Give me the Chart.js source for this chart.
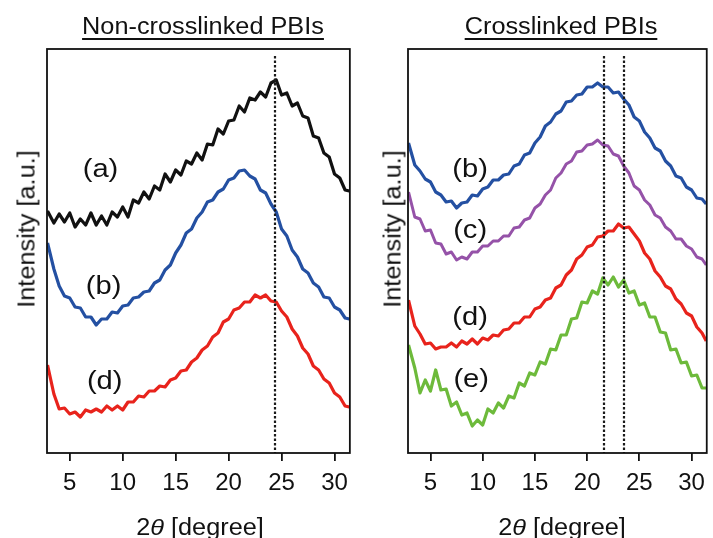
<!DOCTYPE html>
<html>
<head>
<meta charset="utf-8">
<script src="https://cdn.jsdelivr.net/npm/chart.js@4.4.1/dist/chart.umd.min.js"></script>
<style>
  html, body { margin: 0; padding: 0; background: #fff; }
  body { width: 713px; height: 538px; position: relative; overflow: hidden;
         font-family: "Liberation Sans", Arial, sans-serif; color: #111; }
  canvas { position: absolute; top: 0; }
  .txt { position: absolute; white-space: nowrap; line-height: 1; }
  .title { top: 15px; font-size: 23px; text-decoration: underline;
           text-decoration-thickness: 1.5px; text-underline-offset: 4px;
           transform: translateX(-50%) scaleX(1.1); }
  .ytitle { font-size: 23px; transform: translate(-50%, -50%) rotate(-90deg) scaleX(1.1); }
  .xtitle { top: 516px; font-size: 23px; transform: translateX(-50%) scaleX(1.1); }
</style>
</head>
<body>
<canvas id="leftChart" width="356" height="538" style="left:0"></canvas>
<canvas id="rightChart" width="357" height="538" style="left:356px"></canvas>

<div class="txt title" style="left:203px">Non-crosslinked PBIs</div>
<div class="txt title" style="left:561px">Crosslinked PBIs</div>
<div class="txt ytitle" style="left:27px; top:229px">Intensity [a.u.]</div>
<div class="txt ytitle" style="left:393px; top:229px">Intensity [a.u.]</div>
<div class="txt xtitle" style="left:200px">2<i>θ</i> [degree]</div>
<div class="txt xtitle" style="left:562px">2<i>θ</i> [degree]</div>

<script>
// 2θ sampling (degrees) shared by every pattern
const twoTheta = [2.9, 3.5, 4, 4.5, 5, 5.5, 6, 6.5, 7, 7.5, 8, 8.5, 9, 9.5, 10, 10.5, 11, 11.5, 12, 12.5,
  13, 13.5, 14, 14.5, 15, 15.5, 16, 16.5, 17, 17.5, 18, 18.5, 19, 19.5, 20, 20.5, 21, 21.5, 22, 22.5,
  23, 23.5, 24, 24.5, 25, 25.5, 26, 26.5, 27, 27.5, 28, 28.5, 29, 29.5, 30, 30.5, 31, 31.4];
const xTicks = [5, 10, 15, 20, 25, 30];

// Non-crosslinked PBIs (offset intensities, a.u.)
const nonA = [242, 230, 239, 231, 240, 226, 234, 228, 240, 228, 237, 228, 241, 236, 246, 236, 253, 250, 261, 254,
  267, 263, 279, 271, 283, 278, 292, 289, 300, 293, 309, 308, 324, 319, 332, 333, 347, 341, 355, 353,
  361, 356, 370, 373, 358, 360, 347, 350, 337, 335, 317, 315, 300, 296, 279, 275, 263, 262];
const nonB = [210, 184, 167, 157, 155, 146, 145, 136, 136, 128, 134, 134, 141, 140, 147, 148, 155, 156, 161, 162,
  170, 173, 183, 188, 200, 208, 220, 224, 235, 241, 251, 253, 261, 264, 273, 275, 282, 283, 277, 274,
  263, 260, 249, 241, 224, 217, 203, 196, 184, 180, 170, 166, 156, 155, 146, 143, 135, 134];
const nonD = [88, 59, 44, 45, 39, 41, 36, 43, 41, 44, 41, 47, 43, 47, 43, 51, 51, 57, 56, 62,
  62, 67, 66, 73, 75, 82, 83, 91, 95, 103, 107, 116, 120, 131, 134, 143, 145, 151, 151, 158,
  155, 158, 152, 151, 142, 136, 124, 117, 105, 99, 87, 83, 74, 70, 60, 56, 47, 46];

// Crosslinked PBIs
const xlB = [310, 288, 282, 274, 271, 261, 258, 251, 252, 245, 250, 251, 258, 257, 264, 266, 273, 273, 278, 279,
  287, 289, 298, 300, 310, 316, 327, 331, 339, 342, 351, 352, 358, 359, 366, 366, 370, 366, 366, 360,
  361, 354, 348, 336, 332, 321, 315, 305, 302, 292, 287, 277, 275, 266, 263, 255, 254, 249];
const xlC = [261, 236, 234, 222, 223, 210, 209, 199, 201, 193, 196, 194, 201, 201, 207, 207, 212, 212, 217, 217,
  225, 226, 233, 235, 245, 249, 258, 263, 275, 280, 289, 292, 301, 302, 308, 309, 313, 308, 307, 299,
  297, 287, 280, 267, 263, 253, 248, 238, 235, 226, 222, 214, 214, 207, 204, 196, 194, 188];
const xlD = [153, 127, 119, 109, 110, 104, 106, 106, 110, 106, 112, 109, 114, 109, 115, 113, 118, 117, 123, 124,
  130, 130, 136, 136, 144, 146, 153, 155, 165, 168, 178, 183, 194, 198, 206, 208, 216, 217, 222, 222,
  229, 225, 226, 219, 212, 200, 194, 182, 176, 167, 164, 154, 149, 140, 137, 126, 120, 112];
const xlE = [108, 85, 60, 73, 62, 83, 63, 64, 47, 51, 38, 40, 27, 33, 28, 44, 40, 50, 45, 57,
  55, 70, 67, 80, 78, 91, 89, 104, 103, 118, 118, 134, 135, 151, 150, 162, 159, 175, 168, 176,
  166, 173, 160, 162, 148, 150, 136, 136, 121, 120, 103, 104, 90, 91, 77, 78, 65, 65];

const curveLabels = ['(a)', '(b)', '(c)', '(d)', '(e)'];

const FONT = '"Liberation Sans", Arial, sans-serif';
const COLORS = { a: '#111111', b: '#2450a2', c: '#9552a8', d: '#e8231c', e: '#6dba3b' };

function toPoints(ys) {
  return ys.map((y, i) => ({ x: twoTheta[i], y: y }));
}

function series(ys, color, width) {
  return { data: toPoints(ys), borderColor: color, borderWidth: width, pointRadius: 0, tension: 0,
           borderJoinStyle: 'round', fill: false };
}

// frame, dotted peak markers and (a)...(e) labels
const panelDecor = {
  id: 'panelDecor',
  afterDatasetsDraw(chart, args, opts) {
    const { ctx, chartArea: a, scales: { x, y } } = chart;
    ctx.save();
    ctx.strokeStyle = '#1a1a1a';
    ctx.lineWidth = 2.2;
    ctx.setLineDash([2.5, 2]);
    opts.dotted.forEach(v => {
      const px = Math.round(x.getPixelForValue(v));
      ctx.beginPath();
      ctx.moveTo(px, a.top + 7);
      ctx.lineTo(px, a.bottom);
      ctx.stroke();
    });
    ctx.setLineDash([]);
    ctx.lineWidth = 1.8;
    ctx.strokeStyle = '#111';
    ctx.strokeRect(a.left, a.top, a.right - a.left, a.bottom - a.top);
    ctx.fillStyle = '#111';
    ctx.font = '26px ' + FONT;
    ctx.textAlign = 'center';
    ctx.textBaseline = 'middle';
    opts.labels.forEach(l => {
      ctx.save();
      ctx.translate(x.getPixelForValue(l.x), y.getPixelForValue(l.y));
      ctx.scale(1.12, 1);
      ctx.fillText(l.text, 0, 0);
      ctx.restore();
    });
    ctx.restore();
  }
};

function makePanel(id, datasets, padding, dotted, labels) {
  return new Chart(document.getElementById(id), {
    type: 'line',
    data: { datasets: datasets },
    plugins: [panelDecor],
    options: {
      responsive: false,
      animation: false,
      layout: { padding: padding },
      plugins: {
        legend: { display: false },
        tooltip: { enabled: false },
        panelDecor: { dotted: dotted, labels: labels }
      },
      scales: {
        x: {
          type: 'linear', min: 2.85, max: 31.45,
          afterBuildTicks: s => { s.ticks = xTicks.map(v => ({ value: v })); },
          afterFit: s => { s.height = 40; },
          grid: { drawOnChartArea: false, drawTicks: true, tickLength: 8, color: '#111', lineWidth: 1.8 },
          border: { display: false },
          ticks: { color: '#111', font: { size: 24, family: FONT }, padding: 8, maxRotation: 0, autoSkip: false }
        },
        y: { display: false, min: 0, max: 404 }
      }
    }
  });
}

makePanel('leftChart', [
  series(nonA, COLORS.a, 3.2),
  series(nonB, COLORS.b, 3.2),
  series(nonD, COLORS.d, 3.2)
], { left: 47, top: 49, right: 3, bottom: 45 }, [24.4], [
  { text: curveLabels[0], x: 7.9, y: 283 },
  { text: curveLabels[1], x: 8.2, y: 166 },
  { text: curveLabels[3], x: 8.3, y: 71 }
]);

makePanel('rightChart', [
  series(xlB, COLORS.b, 3.2),
  series(xlC, COLORS.c, 3),
  series(xlD, COLORS.d, 3.2),
  series(xlE, COLORS.e, 3.2)
], { left: 52, top: 49, right: 1, bottom: 45 }, [21.6, 23.5], [
  { text: curveLabels[1], x: 8.8, y: 283 },
  { text: curveLabels[2], x: 8.8, y: 222 },
  { text: curveLabels[3], x: 8.8, y: 135 },
  { text: curveLabels[4], x: 8.9, y: 73 }
]);
</script>
</body>
</html>
